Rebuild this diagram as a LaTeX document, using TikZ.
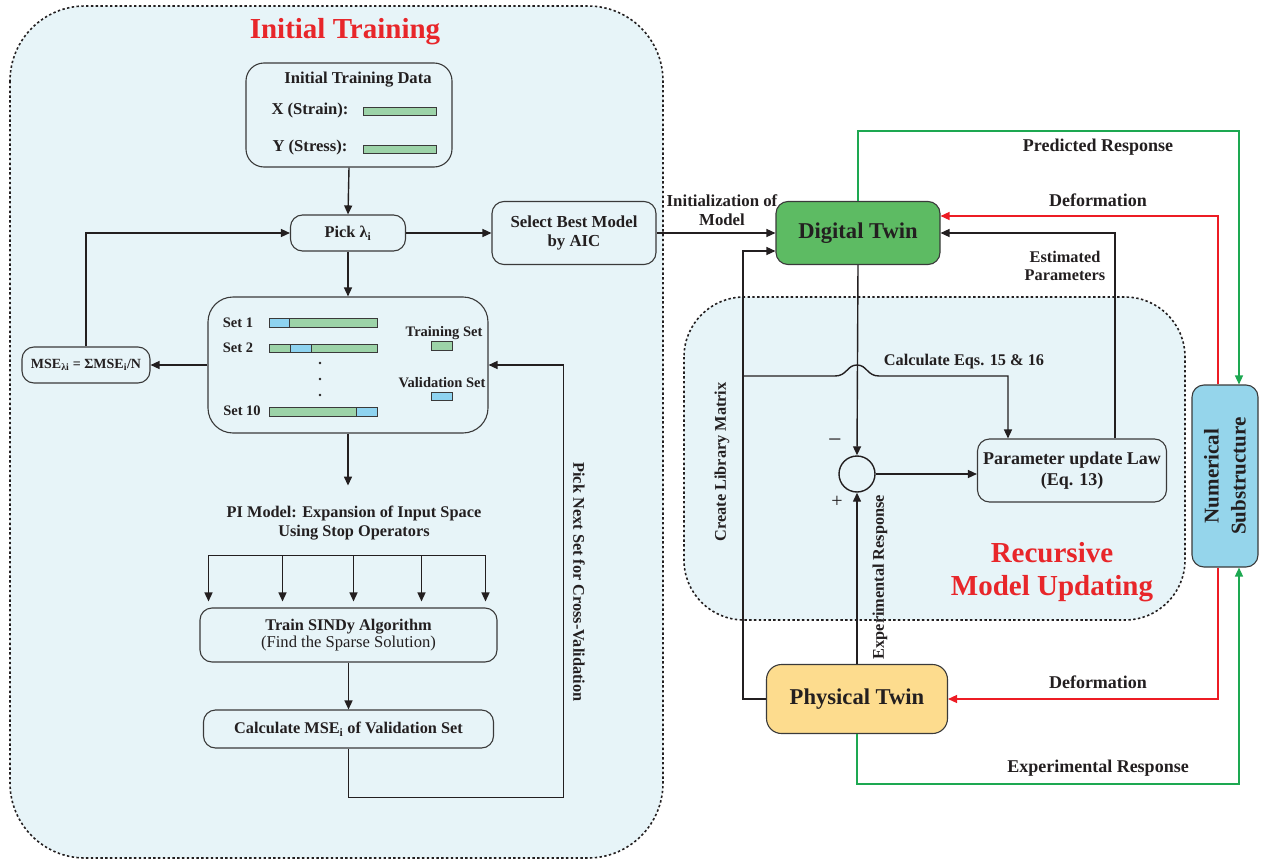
\documentclass[tikz,border=0pt]{standalone}
\usepackage{fontspec}
\setmainfont{Liberation Serif}
\usetikzlibrary{arrows.meta,calc}
\definecolor{ink}{HTML}{231F20}
\definecolor{edge}{HTML}{3A3A3A}
\definecolor{panel}{HTML}{E7F4F8}
\definecolor{trainbar}{HTML}{9CD3A8}
\definecolor{validbar}{HTML}{8ED3F0}
\definecolor{flowred}{HTML}{ED1C24}
\definecolor{flowgreen}{HTML}{1DA851}
\definecolor{dtfill}{HTML}{5DBB63}
\definecolor{ptfill}{HTML}{FDDC8E}
\definecolor{nsfill}{HTML}{95D5EB}
\definecolor{titlered}{HTML}{E8262A}

\newcommand{\fs}[1]{\fontsize{#1pt}{\dimexpr#1pt*23/20\relax}\selectfont}

\begin{document}
\begin{tikzpicture}[x=1pt,y=-1pt,
  every node/.style={text=ink, font=\bfseries\fs{16.3}},
  box/.style={draw=edge, line width=1.1pt, rounded corners=12pt, align=center, inner sep=0pt},
  region/.style={draw=ink, fill=panel, line width=1.6pt, dash pattern=on 2.4pt off 2.4pt},
  bar/.style={draw=edge, line width=0.8pt},
  arr/.style={draw=ink, line width=1.4pt, -{Triangle[length=9pt,width=8pt]}},
  rarr/.style={draw=flowred, line width=1.4pt, -{Triangle[length=9pt,width=8pt]}},
  garr/.style={draw=flowgreen, line width=1.4pt, -{Triangle[length=9pt,width=8pt]}},
  lbl/.style={align=center, inner sep=0pt},
  flow/.style={lbl, font=\bfseries\fs{18}},
  big/.style={text=titlered, font=\bfseries\fs{29}, align=center}
]
\useasboundingbox (0,0) rectangle (1262,862);

% panels
\draw[region, rounded corners=75pt] (10,6) rectangle (663,858);
\draw[region, rounded corners=60pt] (684,297) rectangle (1185,620);
\node[big] (ttl1) at (345,32) {Initial Training};
\node[big] (ttl2) at (1052,572) {Recursive\\Model Updating};

% ---------- initial training ----------
\node[box, rounded corners=18pt, minimum width=206pt, minimum height=104pt] (data) at (349,115) {};
\node[lbl, font=\bfseries\fs{16.6}] (datat) at (358,80) {Initial Training Data};
\node[lbl, font=\bfseries\fs{16.6}] (xl) at (310,111) {X (Strain):};
\node[lbl, font=\bfseries\fs{16.6}] (yl) at (310,148) {Y (Stress):};
\draw[bar, fill=trainbar] (363,107) rectangle (436,115);
\draw[bar, fill=trainbar] (363,145) rectangle (436,153);

\node[box, minimum width=115pt, minimum height=36pt] (pick) at (348,233) {Pick λ\textsubscript{i}};
\node[box, minimum width=164pt, minimum height=63pt, font=\bfseries\fs{16.8}] (select) at (574,233) {Select Best Model\\by AIC};

\node[box, rounded corners=25pt, minimum width=280pt, minimum height=136pt] (sets) at (348,365) {};
\begin{scope}[every node/.style={text=ink, font=\bfseries\fs{14.5}, inner sep=0pt}]
  \node (s1) at (238,323) {Set 1};
  \node (s2) at (238,348) {Set 2};
  \node (s10) at (242,411) {Set 10};
  \node (tsl) at (444,333) {Training Set};
  \node (vsl) at (442,383) {Validation Set};
\end{scope}
\draw[bar, fill=trainbar] (269,318) rectangle (377,327);
\draw[bar, fill=validbar] (269,318) rectangle (289,327);
\draw[bar, fill=trainbar] (269,344) rectangle (377,352);
\draw[bar, fill=validbar] (290,344) rectangle (311,352);
\draw[bar, fill=trainbar] (269,407) rectangle (377,416);
\draw[bar, fill=validbar] (356,407) rectangle (377,416);
\draw[bar, fill=trainbar] (431,341) rectangle (452,350);
\draw[bar, fill=validbar] (431,392) rectangle (452,400);
\foreach \yy in {363,379,395} \fill[ink] (320,\yy) circle (1.3pt);

\node[box, minimum width=128pt, minimum height=36pt, font=\bfseries\fs{14}] (mse) at (86,365) {MSE\textsubscript{λi} = ΣMSE\textsubscript{i}/N};

\node[lbl] (pi) at (354,523) {PI Model: Expansion of Input Space\\Using Stop Operators};
\node[box, minimum width=297pt, minimum height=54pt] (train) at (348.5,635) {Train SINDy Algorithm\\[-1pt]{\mdseries\fs{16.6}(Find the Sparse Solution)}};
\node[box, minimum width=290pt, minimum height=38pt] (calc) at (348.5,729) {Calculate MSE\textsubscript{i} of Validation Set};
\node[lbl, rotate=-90] (cv) at (579,582) {Pick Next Set for Cross-Validation};

\draw[arr] (data.south) -- (pick.north);
\draw[arr] (pick.east) -- (select.west);
\draw[arr] (pick.south) -- (sets.north);
\draw[arr] (sets.west) -- (mse.east);
\draw[arr] (mse.north) |- (pick.west);
\draw[arr] (sets.south) -- ++(0,52);
\draw[line width=1.4pt, draw=ink] ([xshift=-140pt,yshift=52pt]train.north) -- ([xshift=137pt,yshift=52pt]train.north);
\foreach \dx in {-140,-66,5,73,137}
  \draw[arr] ([xshift=\dx pt,yshift=52pt]train.north) -- ([xshift=\dx pt,yshift=6pt]train.north);
\draw[arr] (train.south) -- (calc.north);
\draw[arr] (calc.south) -- ++(0,49) -| ([xshift=75pt]sets.east) -- (sets.east);

% ---------- twins ----------
\node[box, fill=dtfill, minimum width=164pt, minimum height=63pt, font=\bfseries\fs{22.6}] (dt) at (858,233) {Digital Twin};
\node[box, fill=ptfill, rounded corners=15pt, minimum width=181pt, minimum height=69pt, font=\bfseries\fs{22.6}] (pt) at (857,699) {Physical Twin};
\node[box, fill=nsfill, minimum width=66pt, minimum height=182pt] (num) at (1225,476) {};
\node[lbl, rotate=90, font=\bfseries\fontsize{21pt}{27pt}\selectfont] (numt) at (1225,476) {Numerical\\Substructure};
\node[draw=ink, line width=1.4pt, circle, minimum size=36pt, inner sep=0pt] (sum) at (857,474) {};
\node[box, fill=panel, minimum width=189pt, minimum height=63pt, font=\bfseries\fs{18}] (param) at (1072,470.5) {Parameter update Law\\(Eq. 13)};

\node[lbl, font=\bfseries\fs{16.8}] (initl) at (722,210) {Initialization of\\Model};
\node[flow] (predl) at (1098,147) {Predicted Response};
\node[flow] (def1) at (1098,200) {Deformation};
\node[lbl] (estl) at (1065,266) {Estimated\\Parameters};
\node[lbl] (eqsl) at (964,362) {Calculate Eqs. 15 \& 16};
\node[lbl, font=\mdseries\fs{24}] (minus) at (835,443) {−};
\node[lbl, font=\mdseries\fs{20}] (plus) at (837,502) {+};
\node[lbl, rotate=90] (libl) at (722,462) {Create Library Matrix};
\node[lbl, rotate=90] (expv) at (880,577) {Experimental Response};
\node[flow] (def2) at (1098,682) {Deformation};
\node[flow] (expl) at (1098,768) {Experimental Response};

\coordinate (lib) at (743,376);
\draw[arr] (select.east) -- (dt.west);
\draw[arr] (pt.west) -| (lib) |- ([yshift=-18pt]dt.west);
\draw[arr] (lib) -- ++(92,0) .. controls ++(12,0) and ++(-10,0) .. ++(22,-11)
  .. controls ++(10,0) and ++(-12,0) .. ++(22,11) -| ([xshift=-64pt]param.north);
\draw[arr] (dt.south) -- (sum.north);
\draw[arr] (pt.north) -- (sum.south);
\draw[arr] (sum.east) -- (sum.east -| param.west);
\draw[arr] ([xshift=43pt]param.north) |- (dt.east);
\draw[rarr] ([xshift=-7pt]num.north) |- ([yshift=17pt]dt.east);
\draw[rarr] ([xshift=-7pt]num.south) |- (pt.east);
\draw[garr] (dt.north) -- ++(0,-70) -| ([xshift=14pt]num.north);
\draw[garr] (pt.south) -- ++(0,50) -| ([xshift=14pt]num.south);
\end{tikzpicture}
\end{document}
